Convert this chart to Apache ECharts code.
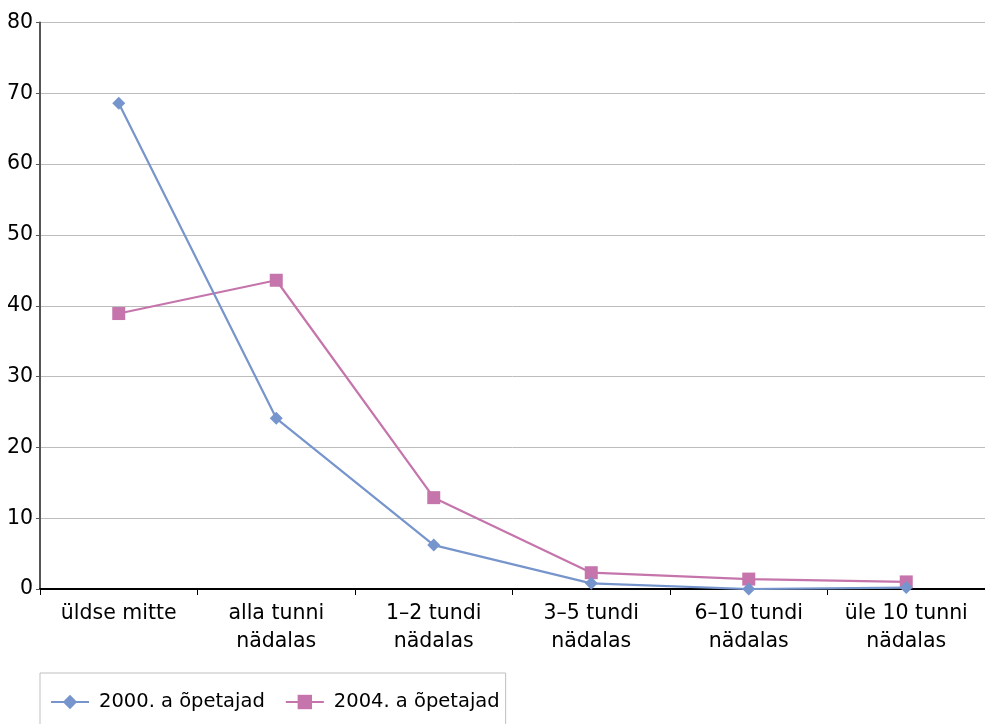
<!DOCTYPE html>
<html>
<head>
<meta charset="utf-8">
<style>
  html, body { margin: 0; padding: 0; background: #fff; }
  #chart { width: 985px; height: 724px; }
</style>
<script src="https://cdn.jsdelivr.net/npm/echarts@6/dist/echarts.min.js"></script>
</head>
<body>
<div id="chart"></div>
<script>
// Weekly computer use in lessons, share of teachers (%)
const categories = [
  'üldse mitte',
  'alla tunni\nnädalas',
  '1–2 tundi\nnädalas',
  '3–5 tundi\nnädalas',
  '6–10 tundi\nnädalas',
  'üle 10 tunni\nnädalas'
];
const teachers2000 = [68.6, 24.1, 6.2, 0.8, 0.0, 0.2];
const teachers2004 = [38.9, 43.6, 12.9, 2.3, 1.4, 1.0];
const seriesNames = ['2000. a õpetajad', '2004. a õpetajad'];
const yTicks = { min: 0, max: 80, interval: 10 };

const blue = '#7795cd';
const pink = '#c575ab';
const font = 'DejaVu Sans, sans-serif';

const chart = echarts.init(document.getElementById('chart'), null, { renderer: 'canvas' });
chart.setOption({
  animation: false,
  textStyle: { fontFamily: font },
  grid: { left: 40, right: 0, top: 22.5, bottom: 135, containLabel: false },
  legend: {
    left: 40,
    top: 673,
    orient: 'horizontal',
    padding: [19, 6, 30, 10],
    itemGap: 20,
    itemWidth: 38,
    itemHeight: 18,
    borderColor: '#bfbfbf',
    borderWidth: 1,
    textStyle: { fontSize: 19.5, color: '#000', fontFamily: font, padding: [0, 0, 0, 5] },
    data: seriesNames
  },
  xAxis: {
    type: 'category',
    data: categories,
    boundaryGap: true,
    axisLine: { lineStyle: { color: '#000', width: 2 } },
    axisTick: { show: true, length: 6, lineStyle: { color: '#000', width: 1 } },
    axisLabel: {
      fontSize: 20.5,
      color: '#000',
      lineHeight: 28,
      margin: 11,
      interval: 0,
      fontFamily: font
    },
    splitLine: { show: false }
  },
  yAxis: {
    type: 'value',
    min: yTicks.min,
    max: yTicks.max,
    interval: yTicks.interval,
    axisLine: { show: true, lineStyle: { color: '#555', width: 2 } },
    axisTick: { show: true, length: 4, lineStyle: { color: '#555', width: 1 } },
    axisLabel: { fontSize: 20.5, color: '#000', margin: 7, fontFamily: font },
    splitLine: { show: true, lineStyle: { color: '#bdbdbd', width: 1 } }
  },
  series: [
    {
      name: seriesNames[0],
      type: 'line',
      data: teachers2000,
      symbol: 'diamond',
      symbolSize: 13,
      lineStyle: { color: blue, width: 2.2 },
      itemStyle: { color: blue },
      z: 3
    },
    {
      name: seriesNames[1],
      type: 'line',
      data: teachers2004,
      symbol: 'rect',
      symbolSize: 13,
      lineStyle: { color: pink, width: 2.2 },
      itemStyle: { color: pink },
      z: 2
    }
  ]
});
</script>
</body>
</html>
